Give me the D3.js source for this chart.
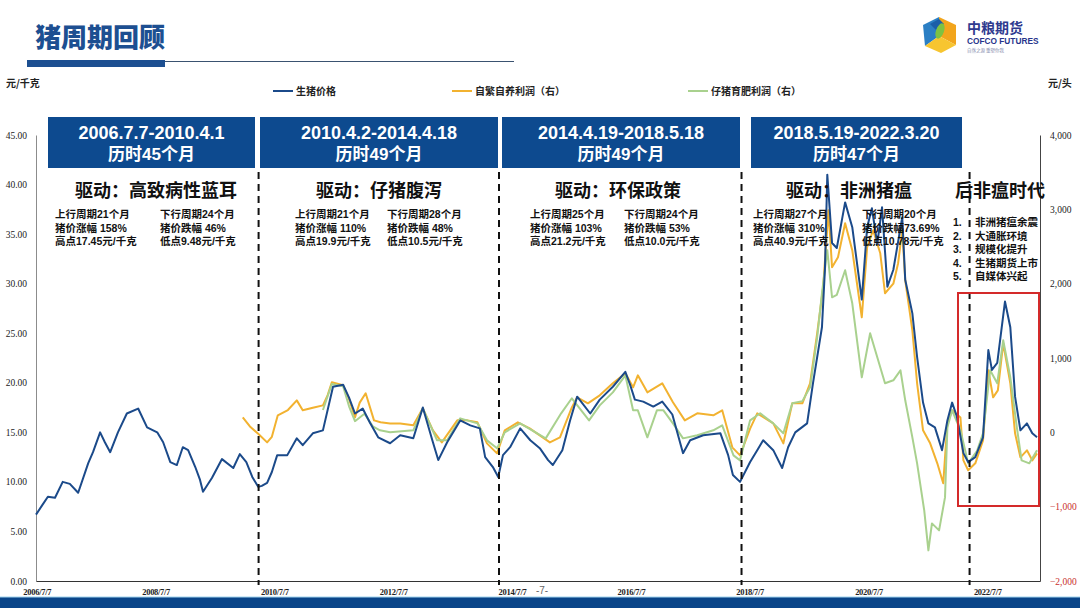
<!DOCTYPE html>
<html><head><meta charset="utf-8">
<script src="https://cdn.jsdelivr.net/npm/d3@7"></script>
<style>
html,body{margin:0;padding:0;background:#fff;}
svg{display:block;}
</style></head>
<body>
<svg id="c" width="1080" height="608"></svg>
<script>
// ---------------- DATA ----------------
// time is given in decimal years
const hogDates = [2006.50,2006.60,2006.70,2006.82,2006.95,2007.07,2007.21,2007.38,2007.46,2007.58,2007.66,2007.75,2007.88,2008.03,2008.22,2008.37,2008.54,2008.64,2008.76,2008.87,2008.97,2009.06,2009.18,2009.26,2009.31,2009.46,2009.63,2009.82,2009.93,2010.04,2010.14,2010.24,2010.30,2010.39,2010.47,2010.56,2010.73,2010.89,2010.99,2011.16,2011.33,2011.50,2011.67,2011.77,2011.87,2012.00,2012.12,2012.26,2012.46,2012.63,2012.85,2013.01,2013.17,2013.27,2013.42,2013.64,2013.81,2013.97,2014.06,2014.19,2014.28,2014.36,2014.48,2014.65,2014.82,2014.98,2015.12,2015.20,2015.36,2015.49,2015.61,2015.83,2015.99,2016.21,2016.42,2016.50,2016.58,2016.72,2016.89,2017.04,2017.21,2017.39,2017.51,2017.73,2018.02,2018.15,2018.23,2018.35,2018.52,2018.64,2018.74,2018.91,2019.06,2019.16,2019.28,2019.48,2019.58,2019.73,2019.78,2019.82,2019.90,2019.98,2020.12,2020.24,2020.40,2020.49,2020.57,2020.66,2020.74,2020.83,2020.93,2021.08,2021.13,2021.25,2021.33,2021.43,2021.52,2021.63,2021.75,2021.84,2021.92,2022.00,2022.11,2022.19,2022.31,2022.44,2022.53,2022.59,2022.68,2022.81,2022.90,2022.98,2023.07,2023.18,2023.27,2023.35];
const hogPrice = [6.7,7.6,8.5,8.4,10.0,9.8,8.9,11.9,13.0,15.0,14.0,13.0,15.0,16.9,17.4,15.5,15.0,14.0,12.0,11.7,13.5,13.2,11.5,10.2,9.0,10.4,12.3,11.4,12.8,12.0,10.5,9.5,9.6,9.9,11.0,12.7,12.7,14.4,13.7,14.9,15.2,19.6,19.8,18.5,16.9,17.4,16.0,14.5,13.9,14.7,14.4,17.5,14.2,12.2,14.0,16.2,15.7,15.4,12.5,11.5,10.5,12.7,13.5,15.4,14.2,13.4,12.2,11.7,13.2,16.2,18.6,16.9,18.3,19.6,21.1,19.8,18.3,18.1,17.6,18.1,16.8,12.9,14.2,14.7,14.9,12.7,10.7,10.0,12.0,13.2,14.2,13.2,11.4,13.5,15.0,15.9,20.0,25.6,31.4,41.0,34.1,33.6,38.2,35.7,28.4,35.7,37.6,34.0,37.7,29.7,31.4,36.7,30.4,27.0,22.6,18.0,15.9,15.5,13.2,16.2,18.0,16.6,12.9,12.0,12.5,14.5,23.3,21.3,22.0,28.2,25.6,18.6,15.2,15.9,14.9,14.5];

const selfDates = [2009.98,2010.10,2010.24,2010.39,2010.47,2010.57,2010.74,2010.89,2010.99,2011.16,2011.33,2011.41,2011.48,2011.67,2011.77,2011.87,2011.95,2012.05,2012.19,2012.30,2012.46,2012.63,2012.85,2013.01,2013.18,2013.33,2013.59,2013.76,2013.93,2014.09,2014.26,2014.39,2014.61,2014.81,2015.15,2015.32,2015.52,2015.61,2015.79,2015.99,2016.21,2016.42,2016.55,2016.63,2016.79,2017.04,2017.22,2017.42,2017.63,2017.90,2018.05,2018.22,2018.35,2018.52,2018.64,2018.91,2019.08,2019.23,2019.40,2019.53,2019.65,2019.75,2019.84,2019.90,2020.00,2020.12,2020.24,2020.40,2020.49,2020.59,2020.71,2020.79,2020.93,2021.01,2021.08,2021.13,2021.25,2021.33,2021.43,2021.55,2021.67,2021.77,2021.84,2021.92,2022.06,2022.11,2022.19,2022.31,2022.44,2022.53,2022.61,2022.69,2022.78,2022.90,2022.98,2023.07,2023.18,2023.27,2023.35];
const selfProfit = [202,80,-20,-135,-60,229,300,430,296,330,363,500,673,633,450,202,400,525,161,135,120,120,94,323,27,-135,161,161,135,-148,-283,27,135,54,-135,-67,336,471,390,498,660,794,606,767,538,660,404,161,256,229,296,-202,-310,50,256,121,-148,390,390,660,1333,1952,2988,2221,2355,2813,2450,1548,2490,2719,2409,1871,2000,2275,2719,2046,1373,660,27,-148,-417,-686,121,296,200,-377,-511,-417,-108,834,471,565,1198,660,-13,-336,-242,-377,-283];

const pigletDates = [2011.33,2011.48,2011.67,2011.77,2011.87,2012.03,2012.17,2012.29,2012.46,2012.85,2013.01,2013.25,2013.42,2013.64,2013.93,2014.09,2014.26,2014.39,2014.65,2015.08,2015.34,2015.52,2015.81,2015.99,2016.21,2016.42,2016.55,2016.63,2016.79,2016.95,2017.06,2017.22,2017.39,2017.63,2017.90,2018.05,2018.24,2018.35,2018.52,2018.69,2018.91,2019.08,2019.23,2019.40,2019.53,2019.65,2019.73,2019.82,2019.90,2019.98,2020.12,2020.24,2020.40,2020.54,2020.66,2020.79,2020.93,2021.05,2021.13,2021.25,2021.33,2021.45,2021.52,2021.58,2021.70,2021.80,2021.84,2021.92,2022.06,2022.19,2022.34,2022.44,2022.56,2022.68,2022.78,2022.90,2023.01,2023.09,2023.22,2023.35];
const pigletProfit = [300,650,620,350,150,250,80,27,0,27,323,-108,-108,188,121,-108,-215,0,121,-81,256,458,161,363,538,767,296,296,-67,296,296,121,-81,-40,27,94,-310,-377,161,256,121,-13,390,420,606,1279,1871,2450,1817,1850,2180,1736,740,1333,1010,660,700,834,431,-67,-417,-1050,-1588,-1225,-1319,-875,67,296,27,-417,-250,-13,834,660,1238,740,67,-377,-417,-242];

const leftTicks = [0,5,10,15,20,25,30,35,40,45];
const rightTicks = [-2000,-1000,0,1000,2000,3000,4000];
const xTickDates = ["2006-07-07","2008-07-07","2010-07-07","2012-07-07","2014-07-07","2016-07-07","2018-07-07","2020-07-07","2022-07-07"];
const xTickLabels = ["2006/7/7","2008/7/7","2010/7/7","2012/7/7","2014/7/7","2016/7/7","2018/7/7","2020/7/7","2022/7/7"];
const cycleBoundaries = ["2010-04-01","2014-04-18","2018-05-18","2022-03-20"];
const seriesNames = ["生猪价格","自繁自养利润（右）","仔猪育肥利润（右）"];

const cycleTitles = ["2006.7.7-2010.4.1","2010.4.2-2014.4.18","2014.4.19-2018.5.18","2018.5.19-2022.3.20"];
const cycleDurations = ["历时45个月","历时49个月","历时49个月","历时47个月"];
const cycleDrivers = ["驱动：高致病性蓝耳","驱动：仔猪腹泻","驱动：环保政策","驱动：非洲猪瘟"];
const cycleUp = [["上行周期21个月","猪价涨幅 158%","高点17.45元/千克"],["上行周期21个月","猪价涨幅 110%","高点19.9元/千克"],["上行周期25个月","猪价涨幅 103%","高点21.2元/千克"],["上行周期27个月","猪价涨幅 310%","高点40.9元/千克"]];
const cycleDown = [["下行周期24个月","猪价跌幅 46%","低点9.48元/千克"],["下行周期28个月","猪价跌幅 48%","低点10.5元/千克"],["下行周期24个月","猪价跌幅 53%","低点10.0元/千克"],["下行周期20个月","猪价跌幅73.69%","低点10.78元/千克"]];
const postTitle = "后非瘟时代";
const postItems = ["非洲猪瘟余震","大通胀环境","规模化提升","生猪期货上市","自媒体兴起"];

// ---------------- LAYOUT ----------------
const svg = d3.select("#c");
const L = 36, R = 1040, T = 135, B = 581;
const navy = "#1b4a8a", yellow = "#f2b230", green = "#a9d18e", boxBlue = "#0d4a8f";
const CJK = "'Noto Sans CJK SC', 'Noto Sans', sans-serif";
const SERIF = "'Liberation Serif', 'DejaVu Serif', serif";
const SANS = "'Liberation Sans', Arial, sans-serif";

function dec(t){ const y=Math.floor(t); const s=new Date(y,0,1), e=new Date(y+1,0,1); return new Date(+s + (t-y)*(e-s)); }
const parse = d3.timeParse("%Y-%m-%d");

const x = d3.scaleTime().domain([dec(2006.5), dec(2023.40)]).range([L, R]);
const yL = d3.scaleLinear().domain([0,45]).range([B,T]);
const yR = d3.scaleLinear().domain([-2000,4000]).range([B,T]);

// Header
svg.append("text").attr("x",35).attr("y",47).text("猪周期回顾")
  .attr("font-family",CJK).attr("font-weight",900).attr("font-size",26).attr("fill","#1d4f91");
svg.append("rect").attr("x",27).attr("y",60).attr("width",138).attr("height",7).attr("fill","#1d4f91");
svg.append("line").attr("x1",165).attr("x2",514).attr("y1",61.5).attr("y2",61.5).attr("stroke","#3a5270").attr("stroke-width",1);

// Logo
const lg = svg.append("g");
lg.append("polygon").attr("points","939,17 956,25 956,45 939,36").attr("fill","#f2a51c");
lg.append("polygon").attr("points","923,25 939,17 939,36 925,46").attr("fill","#2b7fc4");
lg.append("polygon").attr("points","925,46 939,36 956,45 941,53").attr("fill","#f7c530");
lg.append("polygon").attr("points","930,24 939,19 944,24 936,30").attr("fill","#1b5ea8");
lg.append("ellipse").attr("cx",940).attr("cy",31).attr("rx",4).attr("ry",8).attr("fill","#7dc242").attr("transform","rotate(20,940,31)");
lg.append("text").attr("x",967).attr("y",33).text("中粮期货").attr("font-family",CJK).attr("font-weight",700).attr("font-size",14).attr("fill","#2f3b8f");
lg.append("text").attr("x",967).attr("y",44).text("COFCO FUTURES").attr("font-family",SANS).attr("font-weight",700).attr("font-size",8.3).attr("fill","#27348b");
lg.append("text").attr("x",967).attr("y",51.5).text("自然之源  重塑你我").attr("font-family",CJK).attr("font-size",4.5).attr("fill","#8a8fb0");

// unit labels
svg.append("text").attr("x",6).attr("y",87).text("元/千克").attr("font-family",CJK).attr("font-weight",700).attr("font-size",10).attr("fill","#222");
svg.append("text").attr("x",1048).attr("y",87).text("元/头").attr("font-family",CJK).attr("font-weight",700).attr("font-size",10).attr("fill","#222");

// legend
const legendX = [273, 452, 688], legendCol = [navy, yellow, green];
seriesNames.forEach((n,i)=>{
  svg.append("line").attr("x1",legendX[i]).attr("x2",legendX[i]+20).attr("y1",91).attr("y2",91).attr("stroke",legendCol[i]).attr("stroke-width",2);
  svg.append("text").attr("x",legendX[i]+23).attr("y",94.5).text(n).attr("font-family",CJK).attr("font-weight",700).attr("font-size",10).attr("fill","#222");
});

// axes
const axL = svg.append("g").attr("transform",`translate(${L},0)`)
  .call(d3.axisLeft(yL).tickValues(leftTicks).tickSize(0).tickPadding(9).tickFormat(d3.format(".2f")));
axL.select(".domain").attr("stroke","#8c8c8c").attr("stroke-width",1);
axL.selectAll("text").attr("font-family",SERIF).attr("font-size",9.5).attr("fill","#222");

const axR = svg.append("g").attr("transform",`translate(${R},0)`)
  .call(d3.axisRight(yR).tickValues(rightTicks).tickSize(0).tickPadding(10).tickFormat(d3.format(",")));
axR.select(".domain").attr("stroke","#444").attr("stroke-width",1);
axR.selectAll("text").attr("font-family",SERIF).attr("font-size",9.5).attr("fill",d=> d<0 ? "#c9302c" : "#222");

const axB = svg.append("g").attr("transform",`translate(0,${B})`)
  .call(d3.axisBottom(x).tickValues(xTickDates.map(parse)).tickSize(0).tickPadding(8).tickFormat((d,i)=>xTickLabels[i]));
axB.select(".domain").attr("stroke","#333").attr("stroke-width",1.2);
axB.selectAll("text").attr("font-family",SERIF).attr("font-weight",700).attr("font-size",8.5).attr("fill","#222").attr("letter-spacing",-0.3);

// series
const lineL = d3.line().x(d=>x(dec(d[0]))).y(d=>yL(d[1]));
const lineR = d3.line().x(d=>x(dec(d[0]))).y(d=>yR(d[1]));
svg.append("path").datum(d3.zip(selfDates, selfProfit)).attr("d",lineR).attr("fill","none").attr("stroke",yellow).attr("stroke-width",2).attr("stroke-linejoin","round");
svg.append("path").datum(d3.zip(pigletDates, pigletProfit)).attr("d",lineR).attr("fill","none").attr("stroke",green).attr("stroke-width",2).attr("stroke-linejoin","round");
svg.append("path").datum(d3.zip(hogDates, hogPrice)).attr("d",lineL).attr("fill","none").attr("stroke",navy).attr("stroke-width",2).attr("stroke-linejoin","round");

// cycle boundary dashed lines
cycleBoundaries.forEach(d=>{
  const xx = x(parse(d));
  svg.append("line").attr("x1",xx).attr("x2",xx).attr("y1",172).attr("y2",585)
    .attr("stroke","#111").attr("stroke-width",2).attr("stroke-dasharray","7,5");
});

// cycle header boxes
const boxes = [[48,255],[260,498],[502,740],[751,962]];
boxes.forEach((b,i)=>{
  const cx = (b[0]+b[1])/2;
  svg.append("rect").attr("x",b[0]).attr("y",117).attr("width",b[1]-b[0]).attr("height",51).attr("fill",boxBlue);
  svg.append("text").attr("x",cx).attr("y",139).attr("text-anchor","middle").text(cycleTitles[i])
    .attr("font-family",SANS).attr("font-weight",700).attr("font-size",18).attr("fill","#fff");
  svg.append("text").attr("x",cx).attr("y",160).attr("text-anchor","middle").text(cycleDurations[i])
    .attr("font-family",`${SANS}, ${CJK}`).attr("font-weight",700).attr("font-size",17).attr("fill","#fff");
});

// drivers and stats
const driverCX = [156, 379, 618, 849];
const upX = [55, 295, 530, 753], downX = [160, 387, 624, 862];
cycleDrivers.forEach((t,i)=>{
  svg.append("text").attr("x",driverCX[i]).attr("y",197).attr("text-anchor","middle").text(t)
    .attr("font-family",CJK).attr("font-weight",700).attr("font-size",18).attr("fill","#111");
  cycleUp[i].forEach((s,j)=>{
    svg.append("text").attr("x",upX[i]).attr("y",218+j*13.5).text(s)
      .attr("font-family",`${SANS}, ${CJK}`).attr("font-weight",700).attr("font-size",10.5).attr("fill","#111");
  });
  cycleDown[i].forEach((s,j)=>{
    svg.append("text").attr("x",downX[i]).attr("y",218+j*13.5).text(s)
      .attr("font-family",`${SANS}, ${CJK}`).attr("font-weight",700).attr("font-size",10.5).attr("fill","#111");
  });
});

// post-ASF era
svg.append("text").attr("x",1000).attr("y",197).attr("text-anchor","middle").text(postTitle)
  .attr("font-family",CJK).attr("font-weight",700).attr("font-size",18).attr("fill","#111");
postItems.forEach((s,j)=>{
  svg.append("text").attr("x",953).attr("y",226+j*13.5).text((j+1)+".")
    .attr("font-family",SANS).attr("font-weight",700).attr("font-size",10.5).attr("fill","#111");
  svg.append("text").attr("x",975).attr("y",226+j*13.5).text(s)
    .attr("font-family",CJK).attr("font-weight",700).attr("font-size",10.5).attr("fill","#111");
});

// red highlight box
svg.append("rect").attr("x",958).attr("y",293).attr("width",81).attr("height",213)
  .attr("fill","none").attr("stroke","#d42a2a").attr("stroke-width",2);

// page number and footer band
svg.append("text").attr("x",542).attr("y",594).attr("text-anchor","middle").text("-7-")
  .attr("font-family",SANS).attr("font-size",10).attr("fill","#666");
svg.append("rect").attr("x",0).attr("y",597).attr("width",1080).attr("height",11).attr("fill","#0a4589");
svg.append("line").attr("x1",0).attr("x2",1080).attr("y1",597).attr("y2",597).attr("stroke","#9fd3ee").attr("stroke-width",1);
</script>
</body></html>
